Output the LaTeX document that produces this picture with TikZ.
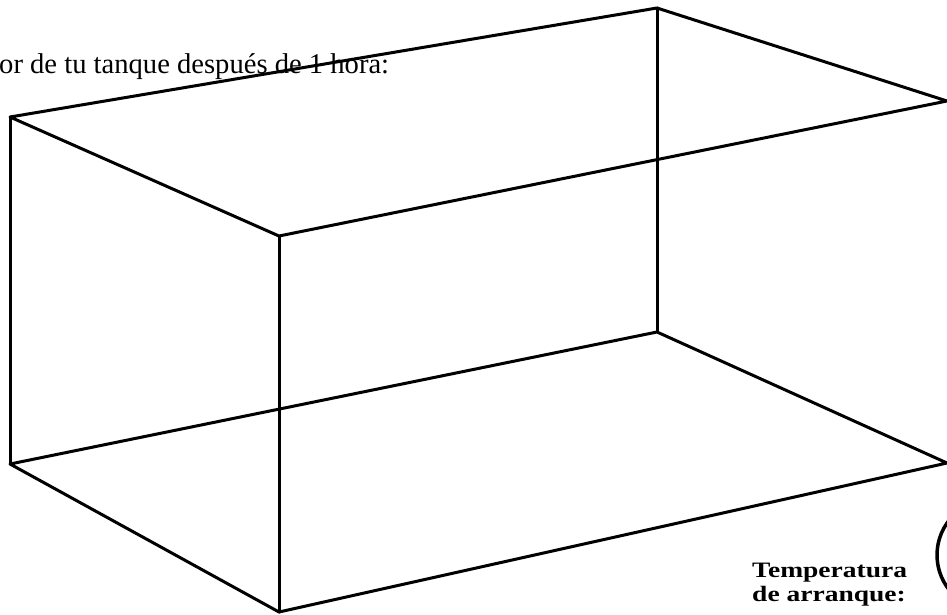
\documentclass[tikz,border=0pt]{standalone}
\usepackage{fontspec}
\setmainfont{Liberation Serif}
\begin{document}
\begin{tikzpicture}[x=1pt,y=-1pt,
  edge/.style={line width=3pt, line cap=round, line join=round},
  ring/.style={line width=3.5pt}]
\useasboundingbox (0,0) rectangle (947,614);
% box vertices
\coordinate (A) at (10,117);
\coordinate (B) at (657,8);
\coordinate (C) at (947,101);
\coordinate (D) at (279,236);
\coordinate (E) at (10,464);
\coordinate (F) at (657,332);
\coordinate (G) at (947,463);
\coordinate (H) at (279,612);
\coordinate (O) at (993,555);
% text
\node[anchor=base west, inner sep=0pt, font=\fontsize{28.6}{34}\selectfont] (title) at (-1,73) {or de tu tanque después de 1 hora:};
\node[anchor=base west, inner sep=0pt, font=\fontsize{22}{24}\selectfont\bfseries] (temp) at (752,577)
  {\scalebox{1.25}[1]{\begin{tabular}[t]{@{}l@{}}Temperatura\\de arranque:\end{tabular}}};
% box edges
\draw[edge] (A) -- (B) -- (C) -- (D) -- cycle;
\draw[edge] (E) -- (F) -- (G) -- (H) -- cycle;
\draw[edge] (A) -- (E);
\draw[edge] (D) -- (H);
\draw[edge] (B) -- (F);
% partial circle
\draw[ring] (O) circle[radius=56];
\end{tikzpicture}
\end{document}
